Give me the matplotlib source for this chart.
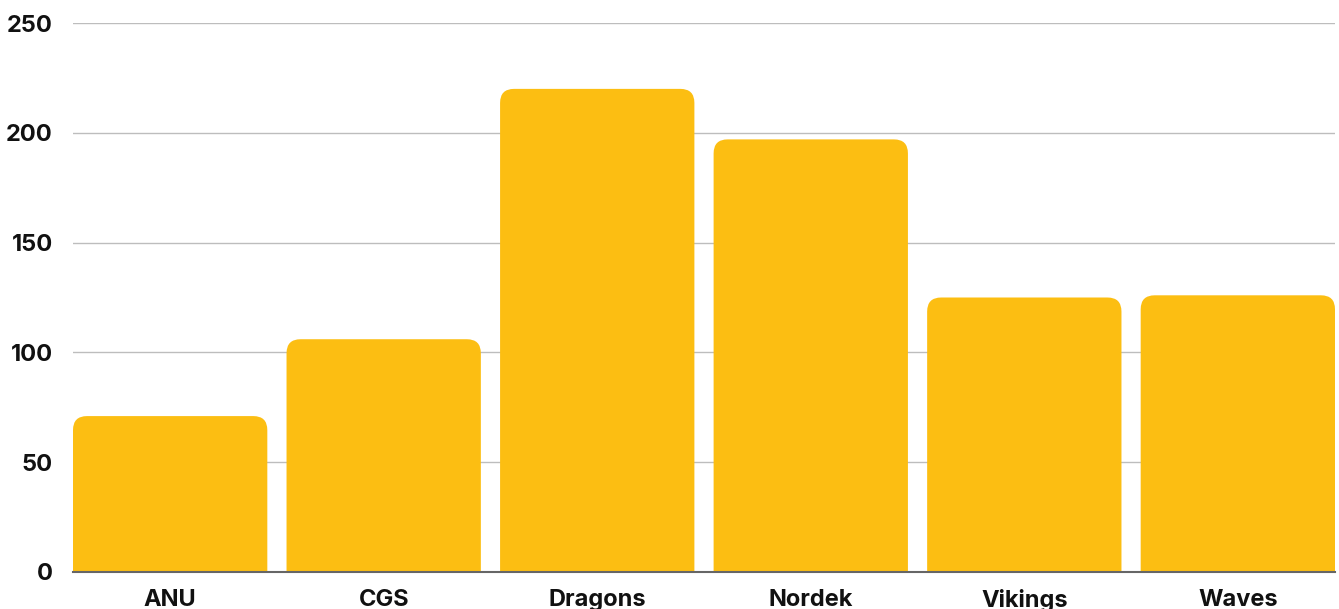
import matplotlib
matplotlib.use("Agg")
import matplotlib.pyplot as plt
from matplotlib.patches import FancyBboxPatch

categories = ["ANU", "CGS", "Dragons", "Nordek", "Vikings", "Waves"]
values = [71, 106, 220, 197, 125, 126]
yticks = [0, 50, 100, 150, 200, 250]

plt.rcParams['font.family'] = ['Inter', 'DejaVu Sans']

W, H, DPI = 13.39, 6.09, 100
fig = plt.figure(figsize=(W, H), dpi=DPI)
left, right = 73 / 1339, 1335 / 1339
bottom, top = 1 - 572 / 609, 1 - 23 / 609
ax = fig.add_axes([left, bottom, right - left, top - bottom])

bar_w = 0.91
color = "#FCBE12"
xs = list(range(len(categories)))
bars = ax.bar(xs, values, width=bar_w, color=color, zorder=2)
ax.set_xlim(-bar_w / 2, len(categories) - 1 + bar_w / 2)
ax.set_ylim(0, 250)

# Rounded tops
ax_w_px = (right - left) * W * DPI
ax_h_px = (top - bottom) * H * DPI
px_per_x = ax_w_px / (ax.get_xlim()[1] - ax.get_xlim()[0])
px_per_y = ax_h_px / 250
aspect = px_per_x / px_per_y
r = 14 / px_per_x
for b in bars:
    x0 = b.get_x()
    w = b.get_width()
    h = b.get_height()
    b.set_visible(False)
    p = FancyBboxPatch((x0, -30), w, h + 30,
                       boxstyle=f"round,pad=0,rounding_size={r}",
                       mutation_aspect=aspect, facecolor=color,
                       edgecolor="none", zorder=2)
    ax.add_patch(p)

ax.set_yticks(yticks)
ax.set_xticks(xs)
ax.set_xticklabels(categories)
for s in ["left", "right", "top"]:
    ax.spines[s].set_visible(False)
ax.spines["bottom"].set_color("#666666")
ax.spines["bottom"].set_linewidth(1.5)
ax.spines["bottom"].set_zorder(3)
ax.tick_params(axis="both", length=0, labelsize=17)
ax.tick_params(axis="y", pad=14.5)
ax.tick_params(axis="x", pad=12.5)
for lab in ax.get_xticklabels() + ax.get_yticklabels():
    lab.set_fontweight("bold")
    lab.set_color("#111111")
for yv in yticks[1:]:
    ax.axhline(yv, color="#BDBDBD", linewidth=1, zorder=1)

fig.savefig("out.png", dpi=DPI)
